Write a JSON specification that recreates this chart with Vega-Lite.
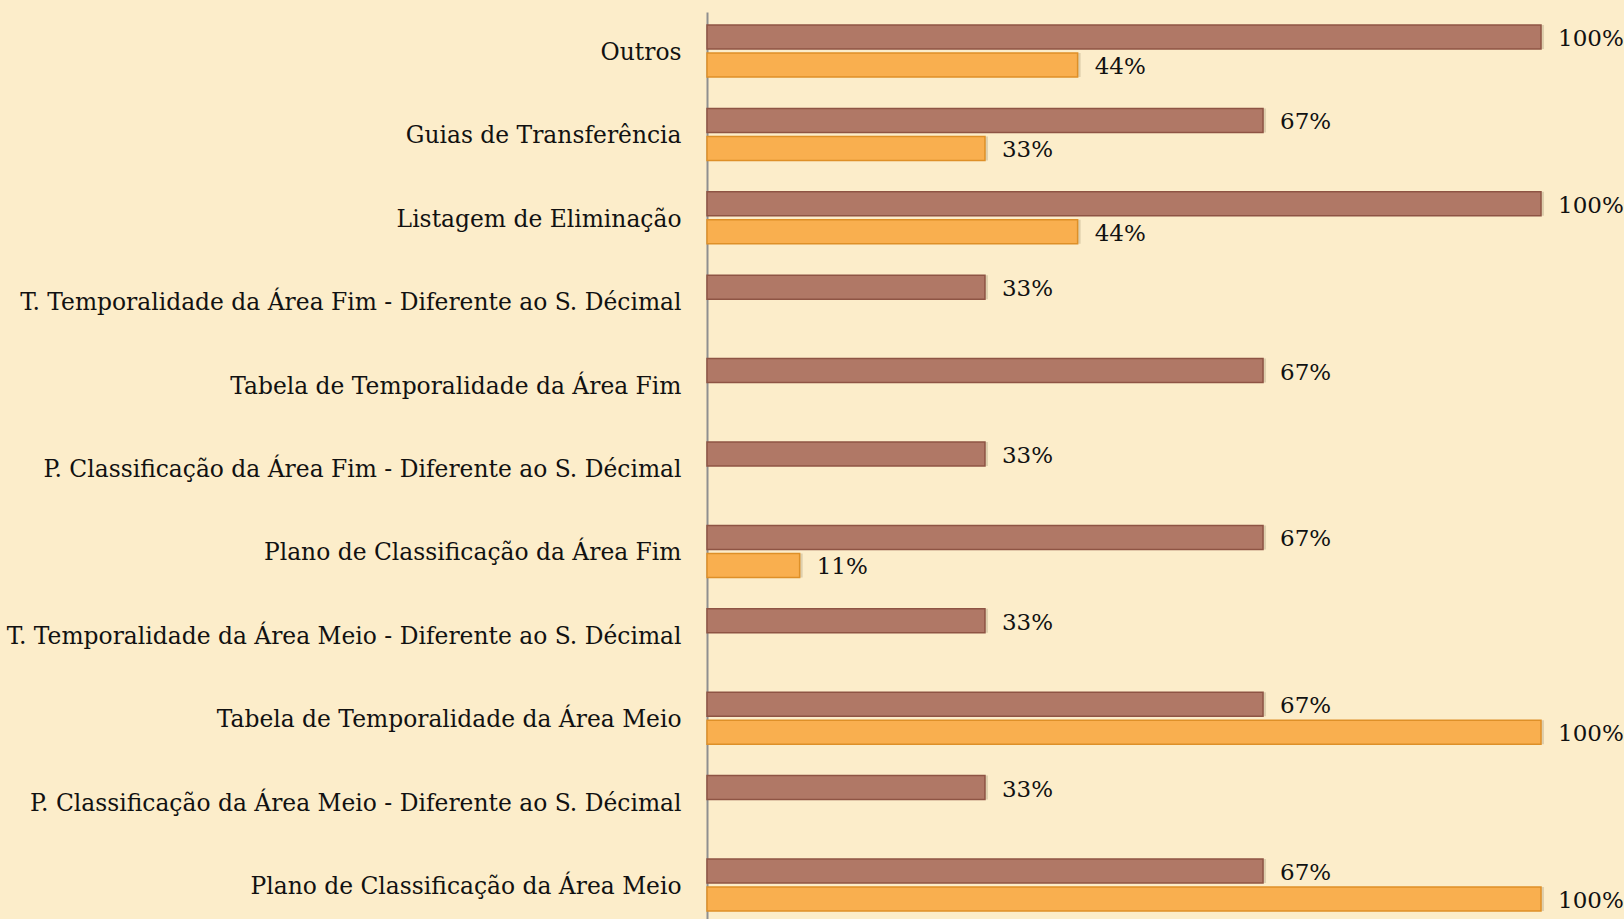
{
  "$schema": "https://vega.github.io/schema/vega-lite/v6.json",
  "autosize": {"type": "none"},
  "width": 834,
  "height": 912,
  "padding": {"left": 707, "top": 12, "right": 83, "bottom": 0},
  "background": "#FCEDCA",
  "config": {"view": {"stroke": null}},
  "data": {
    "values": [
      {"categoria": "Outros", "serie": "Série 1", "valor": 1},
      {"categoria": "Outros", "serie": "Série 2", "valor": 0.4444},
      {"categoria": "Guias de Transferência", "serie": "Série 1", "valor": 0.6667},
      {"categoria": "Guias de Transferência", "serie": "Série 2", "valor": 0.3333},
      {"categoria": "Listagem de Eliminação", "serie": "Série 1", "valor": 1},
      {"categoria": "Listagem de Eliminação", "serie": "Série 2", "valor": 0.4444},
      {"categoria": "T. Temporalidade da Área Fim - Diferente ao S. Décimal", "serie": "Série 1", "valor": 0.3333},
      {"categoria": "Tabela de Temporalidade da Área Fim", "serie": "Série 1", "valor": 0.6667},
      {"categoria": "P. Classificação da Área Fim - Diferente ao S. Décimal", "serie": "Série 1", "valor": 0.3333},
      {"categoria": "Plano de Classificação da Área Fim", "serie": "Série 1", "valor": 0.6667},
      {"categoria": "Plano de Classificação da Área Fim", "serie": "Série 2", "valor": 0.1111},
      {"categoria": "T. Temporalidade da Área Meio - Diferente ao S. Décimal", "serie": "Série 1", "valor": 0.3333},
      {"categoria": "Tabela de Temporalidade da Área Meio", "serie": "Série 1", "valor": 0.6667},
      {"categoria": "Tabela de Temporalidade da Área Meio", "serie": "Série 2", "valor": 1},
      {"categoria": "P. Classificação da Área Meio - Diferente ao S. Décimal", "serie": "Série 1", "valor": 0.3333},
      {"categoria": "Plano de Classificação da Área Meio", "serie": "Série 1", "valor": 0.6667},
      {"categoria": "Plano de Classificação da Área Meio", "serie": "Série 2", "valor": 1}
    ]
  },
  "encoding": {
    "y": {
      "field": "categoria",
      "type": "nominal",
      "sort": null,
      "scale": {"paddingInner": 0.376, "paddingOuter": 0.156},
      "axis": {
        "title": null,
        "ticks": false,
        "domainColor": "#8f8f8f",
        "domainWidth": 2,
        "labelFont": "DejaVu Serif",
        "labelFontSize": 23.4,
        "labelColor": "#111111",
        "labelPadding": 26,
        "labelOffset": 2,
        "labelLimit": 800
      }
    },
    "yOffset": {
      "field": "serie",
      "type": "nominal",
      "scale": {"domain": ["Série 1", "Série 2"], "paddingInner": 0.143, "paddingOuter": 0}
    },
    "x": {
      "field": "valor",
      "type": "quantitative",
      "scale": {"domain": [0, 1], "nice": false},
      "axis": null
    }
  },
  "layer": [
    {
      "mark": {"type": "bar", "fill": "#5a4a2a", "opacity": 0.18, "xOffset": 3, "yOffset": 3},
      "encoding": {}
    },
    {
      "mark": {"type": "bar", "strokeWidth": 1.5, "cornerRadius": 0},
      "encoding": {
        "fill": {
          "field": "serie",
          "type": "nominal",
          "scale": {"domain": ["Série 1", "Série 2"], "range": ["#B07866", "#F9AF4F"]},
          "legend": null
        },
        "stroke": {
          "field": "serie",
          "type": "nominal",
          "scale": {"domain": ["Série 1", "Série 2"], "range": ["#8E5444", "#DE9028"]},
          "legend": null
        }
      }
    },
    {
      "mark": {
        "type": "text",
        "align": "left",
        "baseline": "middle",
        "dx": 17,
        "dy": 2,
        "font": "DejaVu Serif",
        "fontSize": 23,
        "color": "#111111"
      },
      "encoding": {
        "text": {"field": "valor", "type": "quantitative", "format": ".0%"}
      }
    }
  ]
}
